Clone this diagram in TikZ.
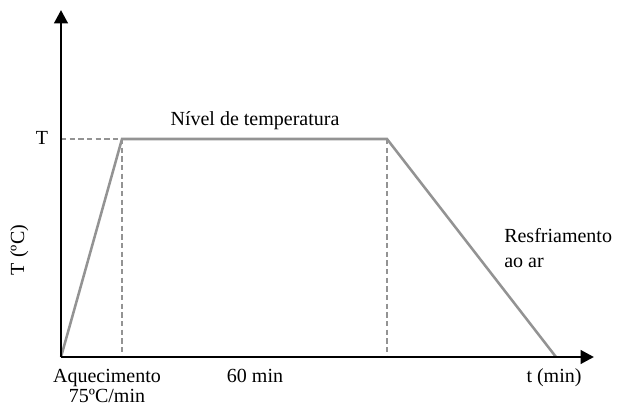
\documentclass[tikz,border=0pt]{standalone}
\usepackage{fontspec}
\setmainfont{Liberation Serif}
\usetikzlibrary{arrows.meta}
\begin{document}
\begin{tikzpicture}[x=0.75pt,y=-0.75pt,
  axis/.style={line width=2.2pt,black,-{Triangle[length=10pt,width=10pt]}},
  curve/.style={line width=1.9pt,color=gray!85,line join=miter},
  guide/.style={line width=1.5pt,color=gray!85,dash pattern=on 4pt off 2.5pt},
  lbl/.style={font=\fontsize{15}{18}\selectfont,inner sep=0pt,anchor=base}]
\useasboundingbox (0,0) rectangle (621,406);
\coordinate (O) at (61,357);
\coordinate (ytop) at (61,10);
\coordinate (xend) at (594,357);
\coordinate (A) at (122,139);
\coordinate (B) at (387,139);
\coordinate (C) at (556,357);
\coordinate (Ty) at (61,139);
\coordinate (Abot) at (122,357);
\coordinate (Bbot) at (387,357);
\draw[guide] (Ty) -- (A);
\draw[guide] (A) -- (Abot);
\draw[guide] (B) -- (Bbot);
\draw[curve] (O) -- (A) -- (B) -- (C);
\draw[axis] (O) -- (ytop);
\draw[axis] (O) -- (xend);
\node[lbl] (tlab) at (42,145) {T};
\node[lbl,rotate=90] (ylab) at (24,250) {T (ºC)};
\node[lbl] (niv) at (255,126) {Nível de temperatura};
\node[lbl,anchor=base west] (resf1) at (504,242) {Resfriamento};
\node[lbl,anchor=base west] (resf2) at (504,267) {ao ar};
\node[lbl] (tmin) at (554,382) {t (min)};
\node[lbl] (aq1) at (107,382) {Aquecimento};
\node[lbl] (aq2) at (107,402) {75ºC/min};
\node[lbl] (sixty) at (255,382) {60 min};
\end{tikzpicture}
\end{document}
